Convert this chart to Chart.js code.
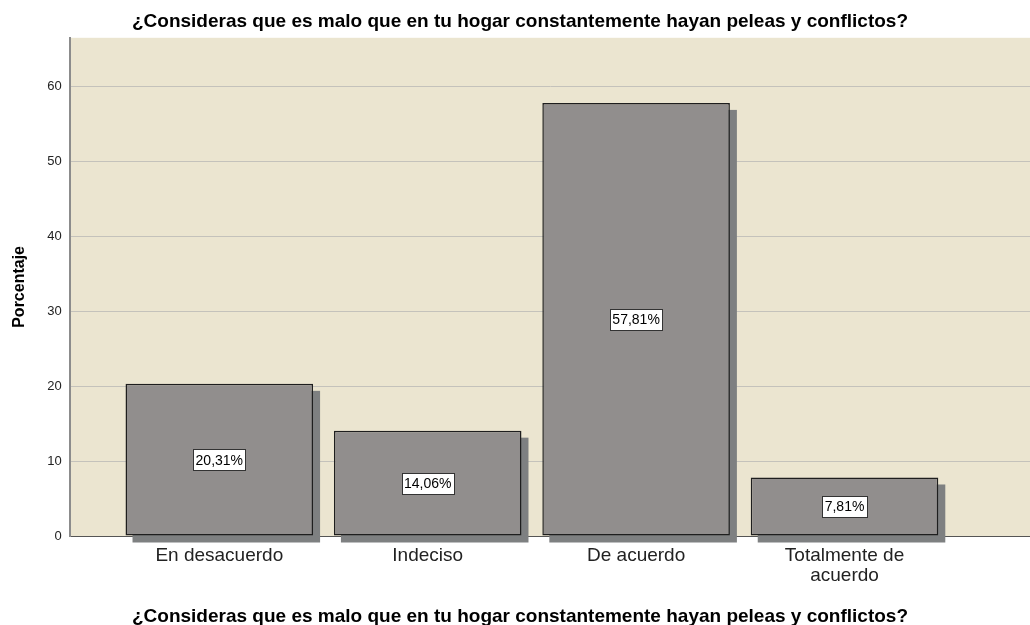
<!DOCTYPE html>
<html>
<head>
<meta charset="utf-8">
<script src="https://cdn.jsdelivr.net/npm/chart.js@4.4.1/dist/chart.umd.min.js"></script>
<style>
  html, body { margin: 0; padding: 0; background: #fff; }
  #wrap { width: 1030px; height: 625px; }
</style>
</head>
<body>
<div id="wrap"><canvas id="chart1"></canvas></div>
<script>
const question = "¿Consideras que es malo que en tu hogar constantemente hayan peleas y conflictos?";
const categories = [["En desacuerdo"], ["Indeciso"], ["De acuerdo"], ["Totalmente de", "acuerdo"]];
const percentages = [20.31, 14.06, 57.81, 7.81];
const pctLabels = ["20,31%", "14,06%", "57,81%", "7,81%"];
const yTicks = [0, 10, 20, 30, 40, 50, 60];

const FONT = "'Liberation Sans', Arial, sans-serif";

// beige plot background
const plotBg = {
  id: "plotBg",
  beforeDraw(chart) {
    const a = chart.chartArea, ctx = chart.ctx;
    ctx.save();
    ctx.fillStyle = "#ebe5d0";
    ctx.fillRect(a.left, a.top, a.right - a.left, a.bottom - a.top);
    ctx.restore();
  }
};

// flat drop shadow behind each bar, offset down-right
const barShadow = {
  id: "barShadow",
  beforeDatasetsDraw(chart) {
    const ctx = chart.ctx;
    const meta = chart.getDatasetMeta(0);
    ctx.save();
    ctx.fillStyle = "#7e8081";
    meta.data.forEach(bar => {
      const w = bar.width;
      ctx.fillRect(bar.x - w / 2 + 7, bar.y + 7, w, bar.base - bar.y);
    });
    ctx.restore();
  }
};

// boxed value labels in the middle of each bar
const boxLabels = {
  id: "boxLabels",
  afterDatasetsDraw(chart) {
    const ctx = chart.ctx;
    const meta = chart.getDatasetMeta(0);
    ctx.save();
    ctx.font = "14px " + FONT;
    ctx.textAlign = "center";
    ctx.textBaseline = "middle";
    meta.data.forEach((bar, i) => {
      const txt = pctLabels[i];
      const cx = bar.x, cy = (bar.y + bar.base) / 2;
      const w = Math.round(ctx.measureText(txt).width + 5), h = 21;
      const x0 = Math.round(cx - w / 2) + 0.5, y0 = Math.round(cy - h / 2) + 0.5;
      ctx.fillStyle = "#fff";
      ctx.fillRect(x0, y0, w, h);
      ctx.strokeStyle = "#333";
      ctx.lineWidth = 1;
      ctx.strokeRect(x0, y0, w, h);
      ctx.fillStyle = "#000";
      ctx.fillText(txt, cx, cy + 1);
    });
    ctx.restore();
  }
};

new Chart(document.getElementById("chart1"), {
  type: "bar",
  data: {
    datasets: [{
      data: percentages.map((v, i) => ({ x: i, y: v })),
      backgroundColor: "#918e8d",
      borderColor: "#1e1e1e",
      borderWidth: 1.5,
      borderSkipped: false,
      categoryPercentage: 0.9,
      barPercentage: 1.0
    }]
  },
  options: {
    responsive: true,
    maintainAspectRatio: false,
    animation: false,
    layout: { padding: { left: 10, right: 0, top: 0, bottom: 0 } },
    scales: {
      x: {
        type: "linear",
        offset: false,
        min: -0.718,
        max: 3.89,
        afterBuildTicks: (axis) => { axis.ticks = categories.map((c, i) => ({ value: i })); },
        ticks: {
          autoSkip: false,
          maxRotation: 0,
          padding: 2,
          color: "#222",
          font: { family: FONT, size: 19, lineHeight: 1.05 },
          callback: (v) => categories[v]
        },
        grid: { display: false },
        border: { display: true, color: "#555", width: 1 }
      },
      y: {
        min: 0,
        max: 66.5,
        afterBuildTicks: (axis) => { axis.ticks = yTicks.map(v => ({ value: v })); },
        ticks: { color: "#222", padding: 8, font: { family: FONT, size: 13 } },
        grid: { color: "#c4c2bb", lineWidth: 1, drawTicks: false },
        border: { display: true, color: "#8c8c8c", width: 2 },
        title: {
          display: true,
          text: "Porcentaje",
          color: "#000",
          font: { family: FONT, size: 16, weight: "bold" },
          padding: { top: 0, bottom: 10 }
        }
      }
    },
    plugins: {
      legend: { display: false },
      tooltip: { enabled: false },
      title: {
        display: true,
        text: question,
        color: "#000",
        font: { family: FONT, size: 19, weight: "bold" },
        padding: { top: 10, bottom: 5 }
      },
      subtitle: {
        display: true,
        position: "bottom",
        text: question,
        color: "#000",
        font: { family: FONT, size: 19, weight: "bold", lineHeight: 0.9 },
        padding: { top: 20, bottom: 0 }
      }
    }
  },
  plugins: [plotBg, barShadow, boxLabels]
});
</script>
</body>
</html>
